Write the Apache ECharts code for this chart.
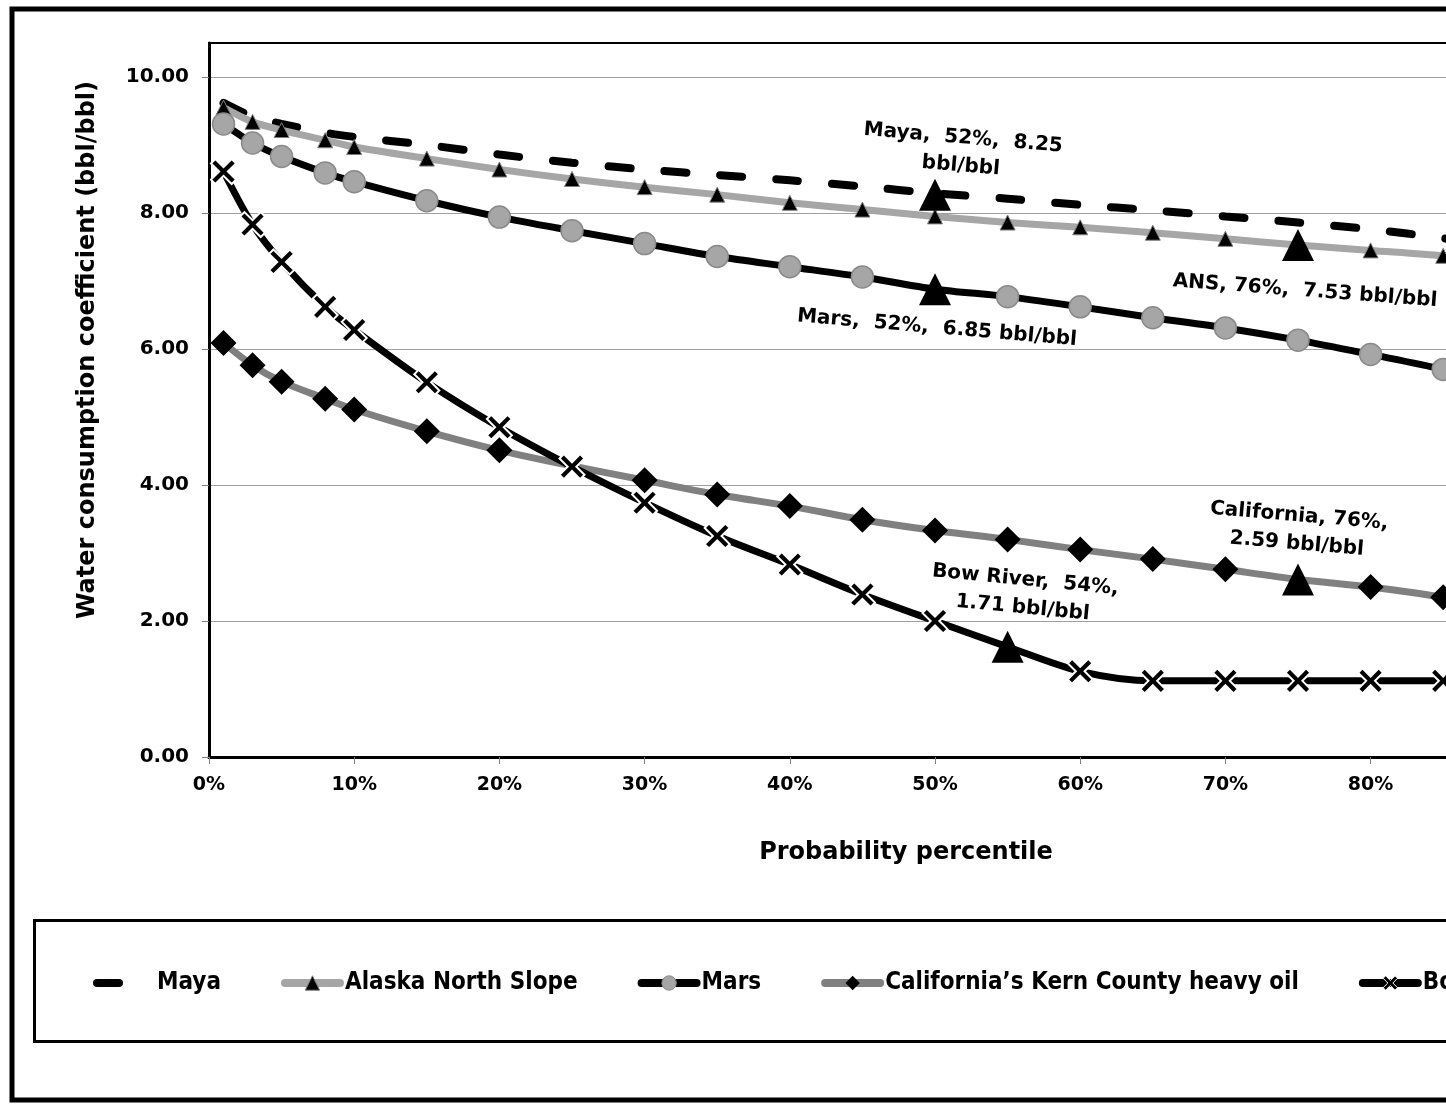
<!DOCTYPE html>
<html><head><meta charset="utf-8">
<script src="https://cdn.jsdelivr.net/npm/echarts@6/dist/echarts.min.js"></script>
<style>html,body{margin:0;padding:0;overflow:hidden;background:#fff;width:1446px;height:1104px}#c{width:1800px;height:1104px}</style>
</head><body><div id="c"></div>
<script>
// ---- data ----
const percentiles = [1,3,5,8,10,15,20,25,30,35,40,45,50,55,60,65,70,75,80,85,90,92,95,97,99];
const seriesNames = ['Maya','Alaska North Slope','Mars','California\u2019s Kern County heavy oil','Bow River'];
const maya       = [9.62,9.42,9.31,9.18,9.12,9.00,8.86,8.74,8.64,8.56,8.48,8.39,8.29,8.21,8.12,8.04,7.95,7.86,7.76,7.63,7.48,7.40,7.25,7.10,6.85];
const alaska     = [9.55,9.34,9.22,9.07,8.97,8.80,8.64,8.50,8.38,8.27,8.15,8.05,7.95,7.86,7.79,7.71,7.62,7.53,7.45,7.37,7.25,7.19,7.08,6.97,6.80];
const mars       = [9.31,9.03,8.83,8.59,8.46,8.18,7.94,7.74,7.55,7.36,7.21,7.06,6.88,6.77,6.62,6.46,6.31,6.13,5.92,5.70,5.42,5.28,5.02,4.80,4.45];
const california = [6.09,5.76,5.52,5.27,5.11,4.79,4.51,4.28,4.07,3.86,3.69,3.49,3.33,3.20,3.05,2.91,2.76,2.61,2.50,2.35,2.18,2.10,1.95,1.82,1.60];
const bowRiver   = [8.61,7.83,7.28,6.62,6.28,5.51,4.85,4.27,3.74,3.25,2.83,2.39,2.00,1.62,1.26,1.12,1.12,1.12,1.12,1.12,1.12,1.12,1.12,1.12,1.12];
// highlighted points (big triangles) and the percentiles where the normal marker is replaced
const highlightPct = [50, 75, 50, 75, 55];
const highlightVal = [8.27, 7.53, 6.88, 2.61, 1.62];
const hiddenMarkers = [[], [75], [50], [25, 75], [55]];
const annotationTexts = ['Maya,  52%,  8.25\nbbl/bbl', 'ANS, 76%,  7.53 bbl/bbl', 'Mars,  52%,  6.85 bbl/bbl', 'California, 76%,\n2.59 bbl/bbl', 'Bow River,  54%,\n1.71 bbl/bbl'];
const yTickValues = [0, 2, 4, 6, 8, 10];
const xTitle = 'Probability percentile';
const yTitle = 'Water consumption coefficient (bbl/bbl)';

// ---- fonts ----
function hasFont(name){
  const c=document.createElement('canvas').getContext('2d');
  const t='California Kern County heavy oil 0123';
  c.font='bold 30px monospace'; const a=c.measureText(t).width;
  c.font='bold 30px "'+name+'", monospace'; const b=c.measureText(t).width;
  return Math.abs(a-b)>0.5;
}
const F = '"DejaVu Sans"';
let legendFont = {family:'"Liberation Sans", Arial, sans-serif', size:25};
if (hasFont('Liberation Sans Narrow')) legendFont = {family:'"Liberation Sans Narrow"', size:31};
else if (hasFont('DejaVu Sans Condensed')) legendFont = {family:'"DejaVu Sans Condensed"', size:24};

const values = [maya, alaska, mars, california, bowRiver];
function build(i){
  return percentiles.map((p,k)=> hiddenMarkers[i].indexOf(p)>=0 ? {value:[p, values[i][k]], symbol:'none'} : [p, values[i][k]]);
}
const xPath = 'path://M0,3.5L3.5,0L10,6.5L16.5,0L20,3.5L13.5,10L20,16.5L16.5,20L10,13.5L3.5,20L0,16.5L6.5,10Z';
const styles = [
  {symbol:'none', symbolSize:0, line:{color:'#000', width:8, type:[22,34], cap:'round'}, item:{color:'#000'},
   legendItem:{color:'rgba(0,0,0,0)', borderWidth:0, opacity:0}, legendLine:{color:'#000', width:8, type:[22,80], cap:'round'}},
  {symbol:'triangle', symbolSize:15, line:{color:'#a6a6a6', width:7}, item:{color:'#000', borderColor:'#7f7f7f', borderWidth:1},
   legendItem:{color:'#000', borderColor:'#7f7f7f', borderWidth:1}, legendLine:{color:'#a6a6a6', width:8, type:'solid', cap:'round'}},
  {symbol:'circle', symbolSize:22, line:{color:'#000', width:7}, item:{color:'#a6a6a6', borderColor:'#8a8a8a', borderWidth:1.5},
   legendItem:{color:'#a6a6a6', borderColor:'#8a8a8a', borderWidth:1}, legendLine:{color:'#000', width:8, type:'solid', cap:'round'}},
  {symbol:'diamond', symbolSize:26, line:{color:'#808080', width:7}, item:{color:'#000'},
   legendItem:{color:'#000', borderWidth:0}, legendLine:{color:'#808080', width:8, type:'solid', cap:'round'}},
  {symbol:xPath, symbolSize:25, line:{color:'#000', width:7}, item:{color:'#000', borderColor:'#fff', borderWidth:2},
   legendItem:{color:'#000', borderColor:'#fff', borderWidth:1}, legendLine:{color:'#000', width:8, type:'solid', cap:'round'}}
];
const series = seriesNames.map((n,i)=>({
  name:n, type:'line', data:build(i), smooth:0.3,
  symbol:styles[i].symbol, symbolSize:styles[i].symbolSize, showSymbol:true, showAllSymbol:true,
  lineStyle:styles[i].line, itemStyle:styles[i].item, z:2+i, emphasis:{disabled:true}
}));
series.push({
  name:'highlight', type:'scatter', symbol:'triangle', symbolSize:32, z:20,
  itemStyle:{color:'#000', opacity:1}, data:highlightPct.map((p,i)=>[p, highlightVal[i]]), emphasis:{disabled:true}
});

const annPos = [[962,152,-0.085],[1305,291,-0.075],[937,328,-0.085],[1298,530,-0.085],[1024,594,-0.095]];
const graphic = [
  {type:'rect', shape:{x:12, y:9, width:1770, height:1091}, style:{fill:'none', stroke:'#000', lineWidth:5}, z:100},
  {type:'rect', shape:{x:34.5, y:920.5, width:1700, height:121}, style:{fill:'none', stroke:'#000', lineWidth:3}, z:100},
  {type:'text', x:88, y:350, rotation:Math.PI/2, style:{text:yTitle, font:'bold 24px '+F, fill:'#000', align:'center', verticalAlign:'middle'}, z:100},
  {type:'text', x:906, y:853, style:{text:xTitle, font:'bold 24px '+F, fill:'#000', align:'center', verticalAlign:'middle'}, z:100}
];
annotationTexts.forEach((t,i)=>graphic.push({type:'text', x:annPos[i][0], y:annPos[i][1], rotation:annPos[i][2],
  style:{text:t, font:'bold 20px '+F, fill:'#000', align:'center', verticalAlign:'middle', lineHeight:28}, z:100}));

const chart = echarts.init(document.getElementById('c'), null, {renderer:'canvas'});
chart.setOption({
  animation:false,
  backgroundColor:'#fff',
  grid:{left:209, top:43, width:1452, height:714, show:true, borderColor:'#000', borderWidth:2, backgroundColor:'transparent'},
  xAxis:{type:'value', min:0, max:100, interval:10,
    axisLine:{show:true, onZero:false, lineStyle:{color:'#000', width:3}},
    axisTick:{show:true, inside:false, length:7, lineStyle:{color:'#808080', width:1}},
    axisLabel:{formatter:'{value}%', margin:19, color:'#000', fontFamily:F, fontWeight:'bold', fontSize:19},
    splitLine:{show:false}},
  yAxis:{type:'value', min:0, max:10.5, interval:2,
    axisLine:{show:true, lineStyle:{color:'#000', width:3}},
    axisTick:{show:true, inside:false, length:7, customValues:yTickValues, lineStyle:{color:'#808080', width:1}},
    axisLabel:{formatter:v=> (Math.abs(v%2)<1e-9 ? v.toFixed(2) : ''), margin:20, color:'#000', fontFamily:F, fontWeight:'bold', fontSize:20},
    splitLine:{show:true, lineStyle:{color:'#a0a0a0', width:1}}},
  legend:{left:93, top:971, padding:0, itemWidth:55, itemHeight:18, itemGap:60, orient:'horizontal',
    data:seriesNames.map((n,i)=>({name:n, itemStyle:styles[i].legendItem, lineStyle:styles[i].legendLine})),
    textStyle:{fontFamily:legendFont.family, fontWeight:'bold', fontSize:legendFont.size, color:'#000'},
    selectedMode:false},
  series:series,
  graphic:graphic
});
</script></body></html>
